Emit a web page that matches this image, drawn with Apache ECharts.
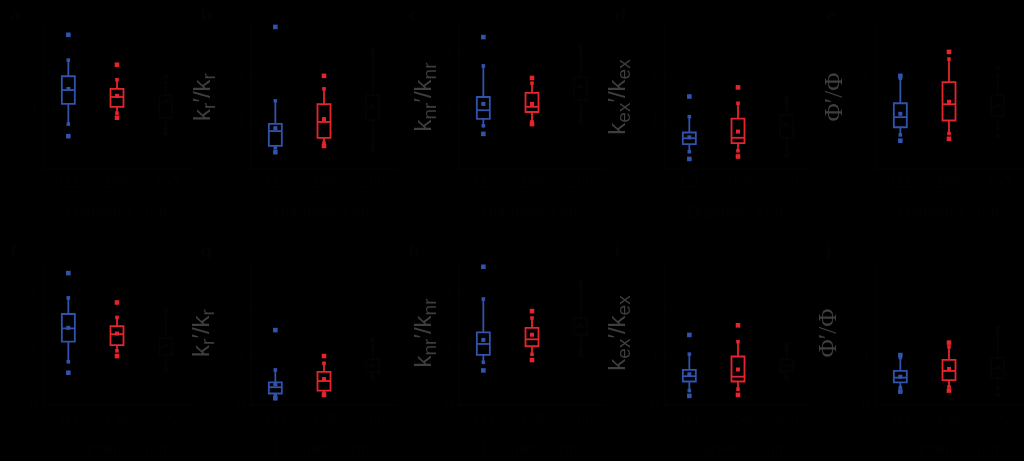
<!DOCTYPE html>
<html><head><meta charset="utf-8">
<script src="https://cdn.jsdelivr.net/npm/echarts@6/dist/echarts.min.js"></script>
<style>html,body{margin:0;padding:0;background:#000;}#c{width:1024px;height:461px;}</style>
</head><body><div id="c"></div>
<script>
const categories = ['111', '158', '200'];
const panelLetters = ['a','b','c','d','e','f','g','h','i','j'];
const yNames = ['τ′/τ','k{s|r}′/k{s|r}','k{s|nr}′/k{s|nr}','k{s|ex}′/k{s|ex}','{p|Φ′/Φ}',
                'τ′/τ','k{s|r}′/k{s|r}','k{s|nr}′/k{s|nr}','k{s|ex}′/k{s|ex}','{p|Φ′/Φ}'];
const yMax = [2.5, 3, 2.5, 3, 3, 2.5, 3, 2.5, 3, 3];
const yInterval = [1, 1, 1, 1, 1, 1, 1, 1, 1, 1];
const xName = 'Diameter / nm';
// each row: [min, lowerWhisker, Q1, median, Q3, upperWhisker, max, mean] for 111, 158, 200 nm
const panelA = [[0.57,0.78,1.13,1.37,1.61,1.89,2.33,1.39],[0.89,0.97,1.08,1.25,1.39,1.55,1.81,1.27],[0.62,0.70,0.89,1.15,1.28,1.50,1.60,1.18]];
const panelB = [[0.35,0.44,0.48,0.79,0.94,1.42,2.96,0.85],[0.48,0.54,0.65,0.98,1.35,1.67,1.94,1.04],[0.40,0.50,1.02,1.27,1.54,2.38,2.48,1.33]];
const panelC = [[0.61,0.75,0.87,1.02,1.25,1.79,2.29,1.13],[0.78,0.82,0.99,1.08,1.32,1.49,1.58,1.13],[0.82,0.90,1.20,1.41,1.60,2.03,2.12,1.44]];
const panelD = [[0.21,0.36,0.52,0.64,0.76,1.09,1.51,0.66],[0.26,0.38,0.54,0.65,1.05,1.37,1.70,0.78],[0.29,0.40,0.65,0.90,1.12,1.38,1.48,0.94]];
const panelE = [[0.59,0.71,0.87,1.08,1.37,1.89,1.94,1.15],[0.63,0.74,1.01,1.35,1.81,2.29,2.44,1.40],[0.70,0.85,1.10,1.30,1.55,1.95,2.10,1.33]];
const panelF = [[0.56,0.75,1.10,1.33,1.58,1.86,2.29,1.34],[0.85,0.94,1.04,1.23,1.37,1.52,1.78,1.24],[0.61,0.68,0.87,1.01,1.16,1.56,1.65,1.04]];
const panelG = [[0.14,0.21,0.24,0.37,0.47,0.73,1.56,0.43],[0.21,0.24,0.30,0.50,0.69,0.87,1.02,0.54],[0.56,0.62,0.68,0.80,0.95,1.25,1.35,0.82]];
const panelH = [[0.60,0.74,0.87,1.06,1.26,1.84,2.40,1.13],[0.78,0.88,1.02,1.14,1.34,1.51,1.63,1.22],[0.87,0.95,1.22,1.35,1.51,2.05,2.14,1.39]];
const panelI = [[0.19,0.30,0.49,0.60,0.73,1.06,1.46,0.64],[0.21,0.33,0.49,0.59,1.01,1.32,1.66,0.74],[0.56,0.62,0.70,0.80,0.95,1.15,1.25,0.82]];
const panelJ = [[0.28,0.36,0.47,0.57,0.71,0.99,1.04,0.59],[0.30,0.38,0.52,0.71,0.94,1.21,1.30,0.75],[0.21,0.35,0.56,0.75,0.98,1.50,1.60,0.78]];
const panels = [panelA,panelB,panelC,panelD,panelE,panelF,panelG,panelH,panelI,panelJ];

const boxColors = ['#3152ad', '#e5252b', '#040404'];
const ink = '#030303';
const nameGray = '#3e3e3e';
const lefts = [44, 251, 459, 665, 876];
const tops = [25, 261];
const nameGaps = [34, 32, 19, 31, 25, 34, 33, 19, 31, 31];
const plotW = 146, plotH = 144;

function renderBox(params, api) {
  const c = api.value(0);
  const col = boxColors[c];
  const p = k => api.coord([c, api.value(k)]);
  const pMin = p(1), pLw = p(2), pQ1 = p(3), pMed = p(4), pQ3 = p(5), pUw = p(6), pMax = p(7), pMean = p(8);
  const x = pMed[0], hw = 6.5, lw = 1.8;
  const sq = (pt, r) => ({type: 'rect', shape: {x: pt[0] - r, y: pt[1] - r, width: 2 * r, height: 2 * r}, style: {fill: col}});
  return {type: 'group', children: [
    {type: 'line', shape: {x1: x, y1: pLw[1], x2: x, y2: pQ1[1]}, style: {stroke: col, lineWidth: lw}},
    {type: 'line', shape: {x1: x, y1: pQ3[1], x2: x, y2: pUw[1]}, style: {stroke: col, lineWidth: lw}},
    {type: 'rect', shape: {x: x - hw, y: pQ3[1], width: 2 * hw, height: pQ1[1] - pQ3[1]}, style: {fill: 'none', stroke: col, lineWidth: lw}},
    {type: 'line', shape: {x1: x - hw, y1: pMed[1], x2: x + hw, y2: pMed[1]}, style: {stroke: col, lineWidth: lw}},
    sq(pLw, 1.8), sq(pUw, 1.8), sq(pMean, 2), sq(pMin, 2.3), sq(pMax, 2.3)
  ]};
}

const grid = [], xAxis = [], yAxis = [], series = [], graphic = [];
panels.forEach((pd, i) => {
  const col = i % 5, row = Math.floor(i / 5);
  grid.push({left: lefts[col], top: tops[row], width: plotW, height: plotH, outerBoundsMode: 'none', containLabel: false});
  xAxis.push({type: 'category', gridIndex: i, data: categories,
    name: xName, nameLocation: 'middle', nameGap: 37,
    nameTextStyle: {color: ink, fontSize: 16, fontFamily: 'Liberation Sans'},
    axisLine: {lineStyle: {color: ink, width: 1.5}}, axisTick: {show: false},
    axisLabel: {color: ink, fontSize: 15, margin: 6, fontFamily: 'Liberation Sans'}});
  const isA = (col === 0);
  const nc = isA ? ink : nameGray;
  yAxis.push({type: 'value', gridIndex: i, min: 0, max: yMax[i], interval: yInterval[i],
    name: yNames[i], nameLocation: 'middle', nameRotate: 90, nameGap: nameGaps[i],
    nameTextStyle: {color: nc, fontSize: 24, lineHeight: 32, fontFamily: 'Liberation Sans',
      rich: {s: {fontSize: 19, lineHeight: 19, verticalAlign: 'bottom', color: nc, fontFamily: 'Liberation Sans'},
             p: {fontSize: 25, lineHeight: 32, color: nc, fontFamily: 'Liberation Serif'}}},
    axisLine: {show: true, lineStyle: {color: ink, width: 1.5}}, axisTick: {show: true, inside: true, lineStyle: {color: ink}},
    splitLine: {show: false},
    axisLabel: {color: ink, fontSize: 14, margin: 6, showMaxLabel: false, fontFamily: 'Liberation Sans'}});
  series.push({type: 'custom', xAxisIndex: i, yAxisIndex: i,
    data: pd.map((r, k) => [k].concat(r)),
    encode: {x: 0, y: [1, 2, 3, 4, 5, 6, 7, 8]},
    renderItem: renderBox, silent: true, animation: false});
  graphic.push({type: 'text', left: lefts[col] - (col === 0 ? 34 : 50), top: tops[row] - 18,
    style: {text: panelLetters[i], fill: ink, fontSize: 18, fontWeight: 'bold', fontFamily: 'Liberation Sans'}});
});

const chart = echarts.init(document.getElementById('c'), null, {renderer: 'canvas'});
chart.setOption({backgroundColor: '#000', animation: false, grid, xAxis, yAxis, series, graphic});
</script></body></html>
